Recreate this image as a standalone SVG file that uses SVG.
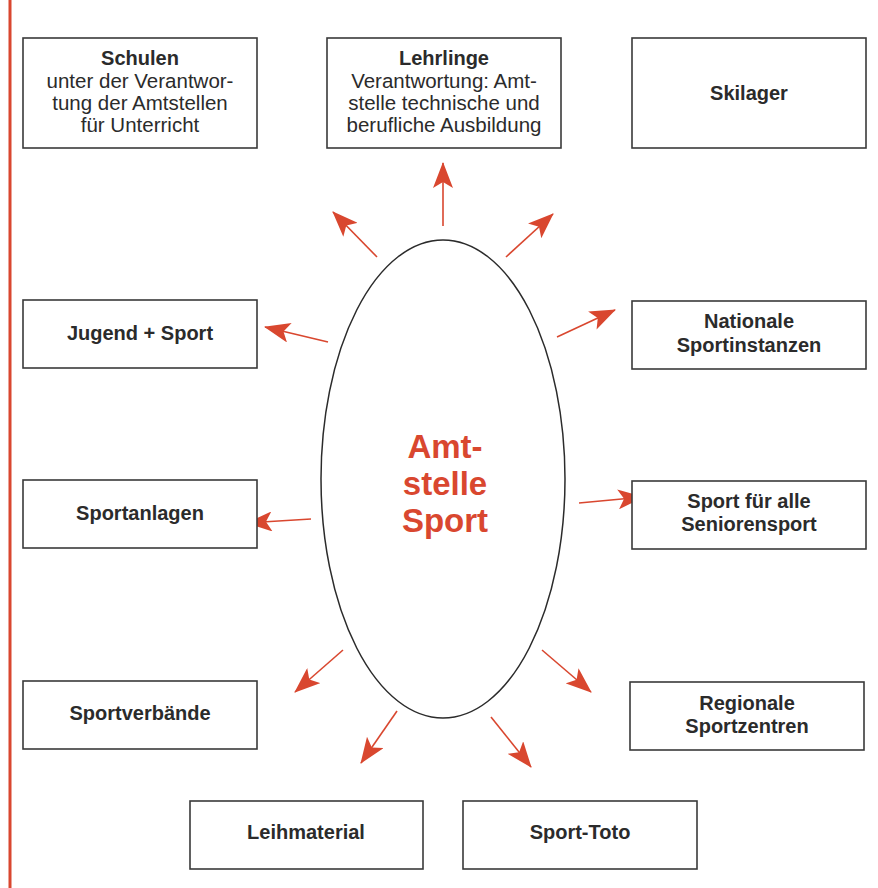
<svg xmlns="http://www.w3.org/2000/svg" width="878" height="888" viewBox="0 0 878 888">
<style>
.box{fill:#fff;stroke:#3a3a3a;stroke-width:1.6}
.t{font-family:"Liberation Sans",Arial,sans-serif;fill:#2b2b2b;text-anchor:middle}
.b{font-weight:bold;font-size:20px}
.r{font-size:20.5px}
.arr{stroke:#d9472f;stroke-width:1.6;fill:none;marker-end:url(#ah)}
.hub{font-family:"Liberation Sans",Arial,sans-serif;font-weight:bold;font-size:33px;fill:#d9472f;text-anchor:middle}
</style>
<defs>
<marker id="ah" markerUnits="userSpaceOnUse" markerWidth="26" markerHeight="20" refX="25" refY="10" orient="auto">
<path d="M0,0 L26,10 L0,20 L6,10 z" fill="#d9472f"/>
</marker>
</defs>
<rect width="878" height="888" fill="#fff"/>
<line x1="10" y1="0" x2="10" y2="888" stroke="#d9472f" stroke-width="3"/>

<g id="hub">
<ellipse cx="443" cy="479" rx="122" ry="239" fill="none" stroke="#2b2b2b" stroke-width="1.5"/>
<text class="hub" x="445" y="458">Amt-</text>
<text class="hub" x="445" y="495">stelle</text>
<text class="hub" x="445" y="532">Sport</text>
</g>

<g id="connectors">
<line class="arr" x1="443" y1="226" x2="443" y2="163"/>
<line class="arr" x1="377" y1="257" x2="333" y2="212"/>
<line class="arr" x1="506" y1="257" x2="553" y2="214"/>
<line class="arr" x1="328" y1="342" x2="265" y2="327"/>
<line class="arr" x1="557" y1="337" x2="615" y2="310"/>
<line class="arr" x1="311" y1="519" x2="247" y2="523"/>
<line class="arr" x1="579" y1="503" x2="643" y2="497"/>
<line class="arr" x1="343" y1="650" x2="295" y2="692"/>
<line class="arr" x1="397" y1="711" x2="361" y2="763"/>
<line class="arr" x1="491" y1="717" x2="531" y2="767"/>
<line class="arr" x1="542" y1="650" x2="591" y2="692"/>
</g>

<g id="schulen">
<rect class="box" x="23" y="38" width="234" height="110"/>
<text class="t b" x="140" y="65">Schulen</text>
<text class="t r" x="140" y="87.5">unter der Verantwor-</text>
<text class="t r" x="140" y="110">tung der Amtstellen</text>
<text class="t r" x="140" y="132">für Unterricht</text>
</g>

<g id="lehrlinge">
<rect class="box" x="327" y="38" width="234" height="110"/>
<text class="t b" x="444" y="65">Lehrlinge</text>
<text class="t r" x="444" y="87.5">Verantwortung: Amt-</text>
<text class="t r" x="444" y="110">stelle technische und</text>
<text class="t r" x="444" y="132">berufliche Ausbildung</text>
</g>

<g id="skilager">
<rect class="box" x="632" y="38" width="234" height="110"/>
<text class="t b" x="749" y="100">Skilager</text>
</g>

<g id="jugend">
<rect class="box" x="23" y="300" width="234" height="68"/>
<text class="t b" x="140" y="340">Jugend + Sport</text>
</g>

<g id="nationale">
<rect class="box" x="632" y="301" width="234" height="68"/>
<text class="t b" x="749" y="328">Nationale</text>
<text class="t b" x="749" y="352">Sportinstanzen</text>
</g>

<g id="sportanlagen">
<rect class="box" x="23" y="480" width="234" height="68"/>
<text class="t b" x="140" y="520">Sportanlagen</text>
</g>

<g id="sportfueralle">
<rect class="box" x="632" y="481" width="234" height="68"/>
<text class="t b" x="749" y="508">Sport für alle</text>
<text class="t b" x="749" y="531">Seniorensport</text>
</g>

<g id="sportverbaende">
<rect class="box" x="23" y="681" width="234" height="68"/>
<text class="t b" x="140" y="720">Sportverbände</text>
</g>

<g id="regionale">
<rect class="box" x="630" y="682" width="234" height="68"/>
<text class="t b" x="747" y="710">Regionale</text>
<text class="t b" x="747" y="733">Sportzentren</text>
</g>

<g id="leihmaterial">
<rect class="box" x="190" y="801" width="233" height="68"/>
<text class="t b" x="306" y="839">Leihmaterial</text>
</g>

<g id="sporttoto">
<rect class="box" x="463" y="801" width="234" height="68"/>
<text class="t b" x="580" y="839">Sport-Toto</text>
</g>
</svg>
